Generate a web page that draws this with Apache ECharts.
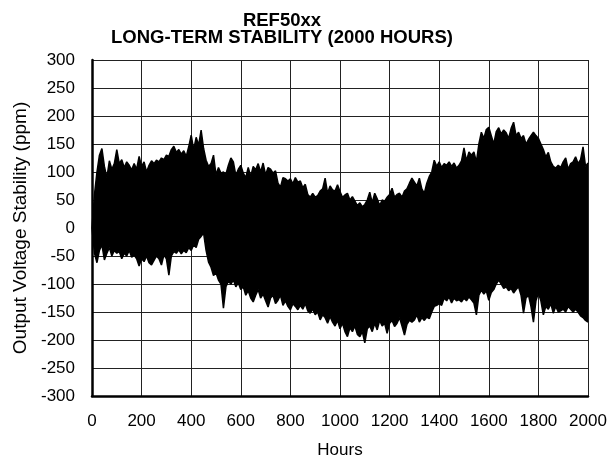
<!DOCTYPE html>
<html>
<head>
<meta charset="utf-8">
<script src="https://cdn.jsdelivr.net/npm/echarts@6/dist/echarts.min.js"></script>
<style>
	html, body { margin: 0; padding: 0; background: #fff; }
	#main { width: 608px; height: 459px; }
</style>
</head>
<body>
<div id="main"></div>
<script>
// 每10小时一个采样点, 0 ~ 2000
var step = 10;
// 上包络 (ppm)
var upper = [
	0, 60, 100, 130, 142, 110, 90, 120, 105, 115,
	140, 115, 122, 108, 118, 112, 104, 115, 105, 128,
	110, 118, 100, 112, 120, 115, 121, 118, 125, 122,
	130, 128, 140, 146, 135, 140, 132, 138, 128, 145,
	166, 140, 162, 148, 175, 142, 121, 110, 115, 130,
	95, 108, 98, 100, 96, 112, 125, 118, 94, 105,
	112, 98, 90, 108, 92, 110, 104, 115, 100, 116,
	95, 108, 105, 98, 102, 80, 73, 90, 88, 84,
	88, 79, 90, 82, 84, 72, 78, 60, 55, 62,
	55, 58, 66, 70, 89, 62, 75, 68, 66, 77,
	65, 55, 59, 62, 50, 56, 48, 40, 45, 38,
	42, 50, 64, 45, 62, 52, 40, 50, 48, 55,
	60, 71, 55, 60, 62, 55, 66, 70, 80, 89,
	82, 75, 89, 70, 62, 80, 92, 100, 121, 110,
	118, 108, 115, 112, 118, 110, 116, 107, 112, 120,
	143, 120, 136, 130, 136, 118, 150, 171, 160, 176,
	180, 165, 150, 172, 179, 168, 175, 170, 160, 178,
	189, 165, 171, 160, 165, 150, 158, 165, 171, 165,
	160, 150, 140, 127, 135, 118, 110, 107, 112, 108,
	118, 125, 105, 115, 118, 127, 115, 122, 145, 110,
	116
];
// 下包络 (ppm)
var lower = [
	0, -45, -62, -40, -30, -57, -45, -35, -50, -40,
	-45, -42, -55, -45, -50, -40, -52, -48, -55, -68,
	-55, -60, -50, -62, -66, -58, -50, -55, -66, -48,
	-55, -84, -50, -42, -45, -39, -46, -40, -44, -35,
	-40, -30, -35, -20, -15, -9, -40, -61, -70, -85,
	-80, -93, -100, -143, -105, -95, -100, -93, -105, -98,
	-110, -105, -120, -112, -125, -132, -120, -110, -125, -118,
	-130, -141, -125, -120, -135, -129, -120, -138, -130, -140,
	-146, -135, -140, -146, -138, -145, -135, -148, -152, -145,
	-155, -150, -164, -155, -160, -170, -158, -168, -175, -165,
	-180, -170, -185, -194, -178, -185, -175, -190, -194, -185,
	-205, -180, -175, -185, -170, -182, -165, -175, -170, -188,
	-170, -165, -176, -170, -160, -175, -191, -172, -165, -168,
	-164, -155, -168, -160, -165, -159, -162, -150, -140, -138,
	-135, -138, -125, -130, -123, -134, -125, -130, -128, -132,
	-125, -130, -123, -128, -134, -155, -120, -111, -118, -112,
	-129, -115, -110, -100, -93, -100, -108, -105, -112, -108,
	-116, -110, -105, -120, -152, -125, -120, -140, -168, -130,
	-116, -130, -155, -140, -145, -135, -152, -140, -150, -148,
	-145, -150, -140, -145, -150, -145, -150, -157, -160, -165,
	-168
];
var xTicks = [0, 200, 400, 600, 800, 1000, 1200, 1400, 1600, 1800, 2000];
var yTicks = [-300, -250, -200, -150, -100, -50, 0, 50, 100, 150, 200, 250, 300];

function showChart() {
	var myChart = echarts.init(document.getElementById('main'));
	var upData = [], lowData = [];
	for (var i = 0; i < upper.length; i++) {
		upData.push([i * step, upper[i]]);
		lowData.push([i * step, lower[i]]);
	}
	var font = 'Liberation Sans, Arial, sans-serif';
	// 上下包络都填充到0线, 合起来就是整条噪声带
	var band = {
		type: 'line',
		symbol: 'none',
		lineStyle: { color: '#000', width: 1.5 },
		areaStyle: { color: '#000', opacity: 1, origin: 0 }
	};
	var option = {
		animation: false,
		title: {
			text: 'REF50xx\nLONG-TERM STABILITY (2000 HOURS)',
			left: 277,
			top: 7,
			textAlign: 'center',
			textStyle: {
				fontFamily: font,
				fontSize: 18.5,
				fontWeight: 'bold',
				color: '#000',
				lineHeight: 17
			}
		},
		grid: {
			left: 92,
			right: 20,
			top: 60,
			bottom: 63,
			outerBoundsMode: 'none'
		},
		xAxis: {
			type: 'value',
			min: xTicks[0],
			max: xTicks[xTicks.length - 1],
			interval: 200,
			name: 'Hours',
			nameLocation: 'middle',
			nameGap: 46,
			nameTextStyle: { fontFamily: font, fontSize: 17, color: '#000' },
			axisLine: { show: true, onZero: false, lineStyle: { color: '#000', width: 2.5 } },
			axisTick: { show: false },
			axisLabel: {
				fontFamily: font, fontSize: 17, color: '#000', margin: 17,
				formatter: function (v) { return String(v); }
			},
			splitLine: { show: true, lineStyle: { color: '#222', width: 1 } }
		},
		yAxis: {
			type: 'value',
			min: yTicks[0],
			max: yTicks[yTicks.length - 1],
			interval: 50,
			name: 'Output Voltage Stability (ppm)',
			nameLocation: 'middle',
			nameGap: 62,
			nameTextStyle: { fontFamily: font, fontSize: 19, color: '#000' },
			axisLine: { show: true, onZero: false, lineStyle: { color: '#000', width: 2.5 } },
			axisTick: { show: false },
			axisLabel: { fontFamily: font, fontSize: 17, color: '#000', margin: 17 },
			splitLine: { show: true, lineStyle: { color: '#222', width: 1 } }
		},
		series: [
			Object.assign({ data: upData }, band),
			Object.assign({ data: lowData }, band)
		]
	};
	myChart.setOption(option);
}
showChart();
</script>
</body>
</html>
